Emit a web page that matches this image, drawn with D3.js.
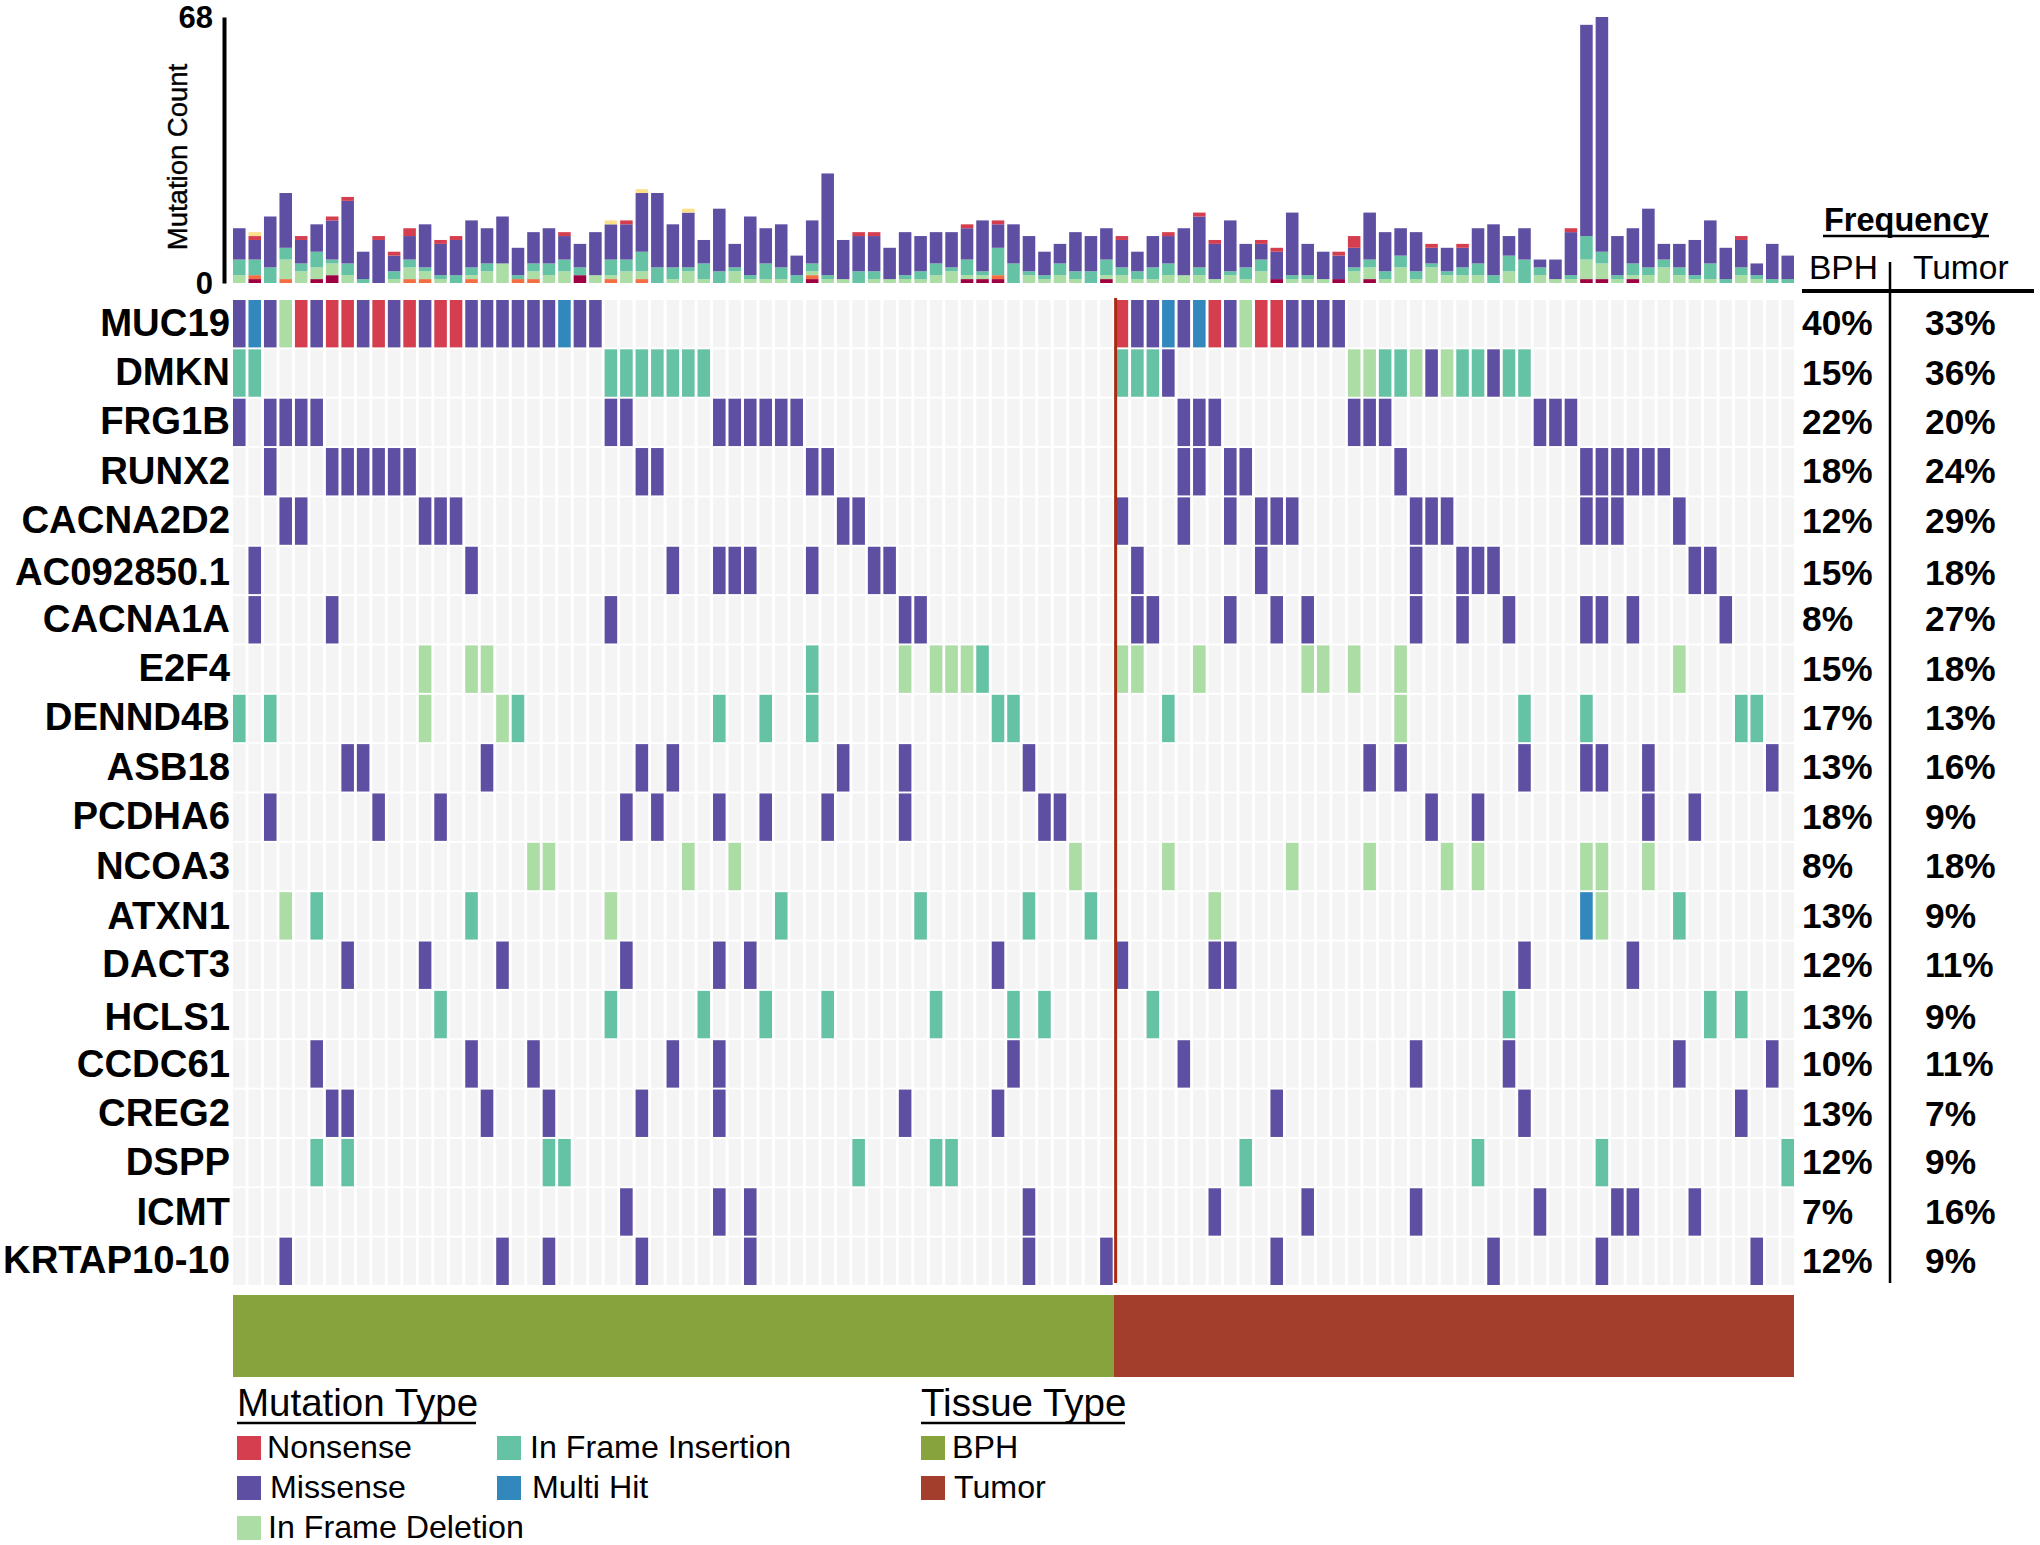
<!DOCTYPE html>
<html>
<head>
<meta charset="utf-8">
<script src="https://cdnjs.cloudflare.com/ajax/libs/d3/7.8.5/d3.min.js"></script>
<style>
  html, body { margin: 0; background: #fff; }
  text { font-family: "Liberation Sans", Arial, sans-serif; fill: #000; }
</style>
</head>
<body>
<div id="chart"></div>
<script>
const genes = ["MUC19", "DMKN", "FRG1B", "RUNX2", "CACNA2D2", "AC092850.1", "CACNA1A", "E2F4", "DENND4B", "ASB18",
    "PCDHA6", "NCOA3", "ATXN1", "DACT3", "HCLS1", "CCDC61", "CREG2", "DSPP", "ICMT", "KRTAP10-10"];
const freqBPH = ["40%", "15%", "22%", "18%", "12%", "15%", "8%", "15%", "17%", "13%", "18%", "8%", "13%", "12%", "13%", "10%", "13%", "12%", "7%", "12%"];
const freqTumor = ["33%", "36%", "20%", "24%", "29%", "18%", "27%", "18%", "13%", "16%", "9%", "18%", "9%", "11%", "9%", "11%", "7%", "9%", "16%", "9%"];

const nSamples = 101;
const nBPH = 57;

// sample indexes hit in each gene, one list per gene, same order as genes
const missense = [
    [0, 2, 5, 8, 10, 12, 15, 16, 17, 18, 19, 20, 22, 23, 58, 59, 61, 64, 68, 69, 70, 71],
    [60, 77, 81],
    [0, 2, 3, 4, 5, 24, 25, 31, 32, 33, 34, 35, 36, 61, 62, 63, 72, 73, 74, 84, 85, 86],
    [2, 6, 7, 8, 9, 10, 11, 26, 27, 37, 38, 61, 62, 64, 65, 75, 87, 88, 89, 90, 91, 92],
    [3, 4, 12, 13, 14, 39, 40, 57, 61, 64, 66, 67, 68, 76, 77, 78, 87, 88, 89, 93],
    [1, 15, 28, 31, 32, 33, 37, 41, 42, 58, 66, 76, 79, 80, 81, 94, 95],
    [1, 6, 24, 43, 44, 58, 59, 64, 67, 69, 76, 79, 82, 87, 88, 90, 96],
    [],
    [],
    [7, 8, 16, 26, 28, 39, 43, 51, 73, 75, 83, 87, 88, 91, 99],
    [2, 9, 13, 25, 27, 31, 34, 38, 43, 52, 53, 77, 80, 91, 94],
    [],
    [],
    [7, 12, 17, 25, 31, 33, 49, 57, 63, 64, 83, 90],
    [],
    [5, 15, 19, 28, 31, 50, 61, 76, 82, 93, 99],
    [6, 7, 16, 20, 26, 31, 43, 49, 67, 83, 97],
    [],
    [25, 31, 33, 51, 63, 69, 76, 84, 89, 90, 94],
    [3, 17, 20, 26, 33, 51, 56, 67, 81, 88, 98]
];
const deletion = [
    [3, 65], [72, 73, 76, 78], [], [], [], [], [],
    [12, 15, 16, 43, 45, 46, 47, 57, 58, 62, 69, 70, 72, 75, 93],
    [12, 17, 75], [], [],
    [19, 20, 29, 32, 54, 60, 68, 73, 78, 80, 87, 88, 91],
    [3, 24, 63, 88],
    [], [], [], [], [], [], []
];
const insertion = [
    [], [0, 1, 24, 25, 26, 27, 28, 29, 30, 57, 58, 59, 74, 75, 79, 80, 82, 83], [], [], [], [], [],
    [37, 48],
    [0, 2, 18, 31, 34, 37, 49, 50, 60, 83, 87, 97, 98],
    [], [], [],
    [5, 15, 35, 44, 51, 55, 93],
    [],
    [13, 24, 30, 34, 38, 45, 50, 52, 59, 82, 95, 97],
    [], [],
    [5, 7, 20, 21, 40, 45, 46, 65, 80, 88, 100],
    [], []
];
const nonsense = [[4, 6, 7, 9, 11, 13, 14, 57, 63, 66, 67], [], [], [], [], [], [], [], [], [], [], [], [], [], [], [], [], [], [], []];
const multiHit = [[1, 21, 60, 62], [], [], [], [], [], [], [], [], [], [], [], [87], [], [], [], [], [], [], []];

// mutation counts per sample for the top bars, bottom segment first
const countDark = [0,1,0,0,0,1,2,0,0,0,0,0,0,0,0,0,0,0,0,0,0,0,2,0,0,0,0,0,0,0,0,0,0,0,0,0,0,1,0,0,0,0,0,0,0,0,0,1,1,1,0,0,0,0,0,0,1,0,0,0,0,0,0,0,0,0,0,1,0,0,0,1,0,1,0,0,0,0,0,0,0,0,0,0,0,0,0,1,1,0,1,0,0,0,0,0,0,0,0,0,0];
const countOrange = [0,1,0,1,0,0,0,0,0,0,0,1,1,0,0,1,0,0,1,1,0,0,0,0,1,0,1,0,0,0,0,0,0,0,0,0,0,1,0,0,0,0,0,0,0,0,0,0,0,1,0,0,0,0,0,0,0,0,0,0,0,0,0,0,0,0,0,0,0,0,0,0,0,0,0,0,0,0,0,0,0,0,0,0,0,0,0,0,0,0,0,0,0,0,0,0,0,0,0,0,0];
const countDeletion = [2,0,0,5,3,3,3,2,0,0,1,3,2,1,0,1,3,5,0,2,2,3,0,2,1,3,2,0,1,3,1,0,3,1,1,1,0,1,1,1,0,1,1,1,1,2,3,1,1,0,0,2,1,2,1,0,1,2,1,1,2,2,2,1,2,1,3,0,1,1,1,0,3,3,1,4,1,4,2,2,2,0,3,0,2,1,1,5,4,1,1,2,4,2,1,1,0,2,1,0,0];
const countInsertion = [4,4,4,3,2,4,1,3,1,0,2,2,1,1,2,2,2,0,1,2,3,3,2,0,4,3,5,4,3,1,4,3,1,1,4,3,2,2,1,0,3,2,0,1,2,3,1,4,1,7,5,1,1,3,2,3,4,2,2,3,3,0,2,0,1,3,3,0,1,1,0,0,1,2,2,3,2,1,1,2,3,2,4,6,2,0,1,6,3,1,3,2,2,2,1,4,1,2,1,1,1];
const countMissense = [8,5,13,14,6,7,10,16,7,11,4,6,11,8,9,12,9,12,7,8,9,6,6,11,9,9,15,19,11,14,6,16,6,15,9,11,5,11,26,10,9,9,8,11,9,8,9,8,13,6,10,9,6,5,10,9,8,7,5,8,7,12,13,9,13,6,4,7,16,8,7,6,5,12,10,7,10,4,6,5,9,13,5,8,2,5,11,54,60,10,9,15,4,6,9,11,8,7,3,9,6];
const countNonsense = [0,1,0,0,1,0,1,1,0,1,1,2,0,1,1,0,0,0,0,0,0,1,0,0,0,1,0,0,0,0,0,0,0,0,0,0,0,0,0,0,1,1,0,0,0,0,0,1,0,1,0,0,0,0,0,0,0,1,0,0,1,0,1,1,0,0,1,1,0,0,0,1,3,0,0,0,0,1,0,1,0,0,0,0,0,0,1,0,0,0,0,0,0,0,0,0,0,1,0,0,0];
const countYellow = [0,1,0,0,0,0,0,0,0,0,0,0,0,0,0,0,0,0,0,0,0,0,0,0,1,0,1,0,0,1,0,0,0,0,0,0,0,0,0,0,0,0,0,0,0,0,0,0,0,0,0,0,0,0,0,0,0,0,0,0,0,0,0,0,0,0,0,0,0,0,0,0,0,0,0,0,0,0,0,0,0,0,0,0,0,0,0,0,0,0,0,0,0,0,0,0,0,0,0,0,0];

const colors = {
    nonsense: "#d53e4f",
    missense: "#5e4fa2",
    deletion: "#abdda4",
    insertion: "#66c2a5",
    multiHit: "#3288bd",
    dark: "#9e0142",
    orange: "#f46d43",
    yellow: "#fee08b"
};
const bphColor = "#86a33e";
const tumorColor = "#a33e2d";

const width = 2040;
const height = 1545;

const svg = d3.select("#chart").append("svg")
    .attr("width", width)
    .attr("height", height)
    .attr("viewBox", "0 0 " + width + " " + height)
    .style("display", "block");

const samples = d3.range(nSamples);
const x = d3.scaleBand().domain(samples).range([233, 1794]).paddingInner(0.19).paddingOuter(0);
const y = d3.scaleBand().domain(genes).range([300, 1285]).paddingInner(0.04).paddingOuter(0);
const yCount = d3.scaleLinear().domain([0, 68]).range([283, 17]);

// a few row labels sit lower than the others in the original
const labelNudge = { "AC092850.1": 3, "ATXN1": 1, "HCLS1": 3, "CCDC61": 1, "CREG2": 1, "ICMT": 1 };

// top stacked bars
const stackKeys = ["dark", "orange", "deletion", "insertion", "missense", "nonsense", "yellow"];
const stackTable = samples.map(i => ({
    dark: countDark[i],
    orange: countOrange[i],
    deletion: countDeletion[i],
    insertion: countInsertion[i],
    missense: countMissense[i],
    nonsense: countNonsense[i],
    yellow: countYellow[i]
}));
svg.append("g").selectAll("g")
    .data(d3.stack().keys(stackKeys)(stackTable))
    .enter().append("g")
    .attr("fill", d => colors[d.key])
    .selectAll("rect")
    .data(d => d.map((v, i) => ({ v: v, i: i })))
    .enter().append("rect")
    .attr("x", d => x(d.i))
    .attr("width", x.bandwidth())
    .attr("y", d => yCount(d.v[1]))
    .attr("height", d => yCount(d.v[0]) - yCount(d.v[1]));

// count axis
const yAxis = svg.append("g")
    .attr("transform", "translate(224,0)")
    .call(d3.axisLeft(yCount).tickValues([0, 68]).tickSize(0).tickPadding(11));
yAxis.select(".domain").attr("stroke", "#000").attr("stroke-width", 4);
yAxis.selectAll("text")
    .style("font-size", "31px")
    .style("font-weight", "bold")
    .attr("dy", "10px");

svg.append("text")
    .attr("transform", "translate(187,157) rotate(-90)")
    .attr("text-anchor", "middle")
    .attr("stroke", "#000")
    .attr("stroke-width", 0.4)
    .style("font-size", "27.5px")
    .text("Mutation Count");

// background cells
svg.append("g").selectAll("g")
    .data(genes)
    .enter().append("g")
    .selectAll("rect")
    .data(g => samples.map(i => ({ g: g, i: i })))
    .enter().append("rect")
    .attr("x", d => x(d.i))
    .attr("y", d => y(d.g))
    .attr("width", x.bandwidth())
    .attr("height", y.bandwidth())
    .attr("fill", "#f4f4f4");

// mutated cells
const hitLists = [["missense", missense], ["deletion", deletion], ["insertion", insertion], ["nonsense", nonsense], ["multiHit", multiHit]];
hitLists.forEach(([type, lists]) => {
    const hits = [];
    lists.forEach((cols, g) => cols.forEach(i => hits.push({ gene: genes[g], i: i })));
    svg.append("g").selectAll("rect")
        .data(hits)
        .enter().append("rect")
        .attr("x", d => x(d.i))
        .attr("y", d => y(d.gene))
        .attr("width", x.bandwidth())
        .attr("height", y.bandwidth())
        .attr("fill", colors[type]);
});

// BPH / tumor divider
const splitX = x.step() * nBPH + x.range()[0];
svg.append("line")
    .attr("x1", splitX).attr("x2", splitX)
    .attr("y1", 298).attr("y2", 1283)
    .attr("stroke", "#a82a10")
    .attr("stroke-width", 3);

// gene labels
svg.append("g").selectAll("text")
    .data(genes)
    .enter().append("text")
    .attr("x", 230)
    .attr("y", d => y(d) + y.bandwidth() / 2 + 12 + (labelNudge[d] || 0))
    .attr("text-anchor", "end")
    .style("font-size", "38.3px")
    .style("font-weight", "bold")
    .text(d => d);

// frequency columns
[[1802, freqBPH], [1925, freqTumor]].forEach(([px, vals]) => {
    svg.append("g").selectAll("text")
        .data(vals)
        .enter().append("text")
        .attr("x", px)
        .attr("y", (d, i) => y(genes[i]) + y.bandwidth() / 2 + 11.5 + (labelNudge[genes[i]] || 0))
        .style("font-size", "35.3px")
        .style("font-weight", "bold")
        .text(d => d);
});

svg.append("text").attr("x", 1824).attr("y", 231)
    .style("font-size", "32.5px").style("font-weight", "bold").text("Frequency");
svg.append("line").attr("x1", 1823).attr("x2", 1989).attr("y1", 236).attr("y2", 236)
    .attr("stroke", "#000").attr("stroke-width", 2.5);
svg.append("text").attr("x", 1809).attr("y", 279).style("font-size", "33.5px").text("BPH");
svg.append("text").attr("x", 1913).attr("y", 279).style("font-size", "33.5px").text("Tumor");
svg.append("line").attr("x1", 1802).attr("x2", 2034).attr("y1", 291).attr("y2", 291)
    .attr("stroke", "#000").attr("stroke-width", 4);
svg.append("line").attr("x1", 1890).attr("x2", 1890).attr("y1", 262).attr("y2", 1283)
    .attr("stroke", "#000").attr("stroke-width", 2.5);

// tissue strip
const stripX = d3.scaleLinear().domain([0, nSamples]).range([233, 1794]);
const tissueSegments = [
    { name: "BPH", from: 0, to: nBPH, color: bphColor },
    { name: "Tumor", from: nBPH, to: nSamples, color: tumorColor }
];
svg.append("g").selectAll("rect")
    .data(tissueSegments)
    .enter().append("rect")
    .attr("x", d => stripX(d.from))
    .attr("width", d => stripX(d.to) - stripX(d.from))
    .attr("y", 1295)
    .attr("height", 82)
    .attr("fill", d => d.color);

// legends
function legendTitle(label, px, lineEnd) {
    svg.append("text").attr("x", px).attr("y", 1416).style("font-size", "38.5px").text(label);
    svg.append("line").attr("x1", px).attr("x2", lineEnd).attr("y1", 1423).attr("y2", 1423)
        .attr("stroke", "#000").attr("stroke-width", 2.5);
}
function legendItem(label, color, px, py, textX) {
    svg.append("rect").attr("x", px).attr("y", py).attr("width", 24).attr("height", 24).attr("fill", color);
    svg.append("text").attr("x", textX).attr("y", py + 22).style("font-size", "32.2px").text(label);
}
legendTitle("Mutation Type", 237, 476);
legendTitle("Tissue Type", 921, 1125);
legendItem("Nonsense", colors.nonsense, 237, 1436, 267);
legendItem("Missense", colors.missense, 237, 1476, 270);
legendItem("In Frame Deletion", colors.deletion, 237, 1516, 268);
legendItem("In Frame Insertion", colors.insertion, 497, 1436, 530);
legendItem("Multi Hit", colors.multiHit, 497, 1476, 532);
legendItem("BPH", bphColor, 921, 1436, 952);
legendItem("Tumor", tumorColor, 921, 1476, 954);
</script>
</body>
</html>
